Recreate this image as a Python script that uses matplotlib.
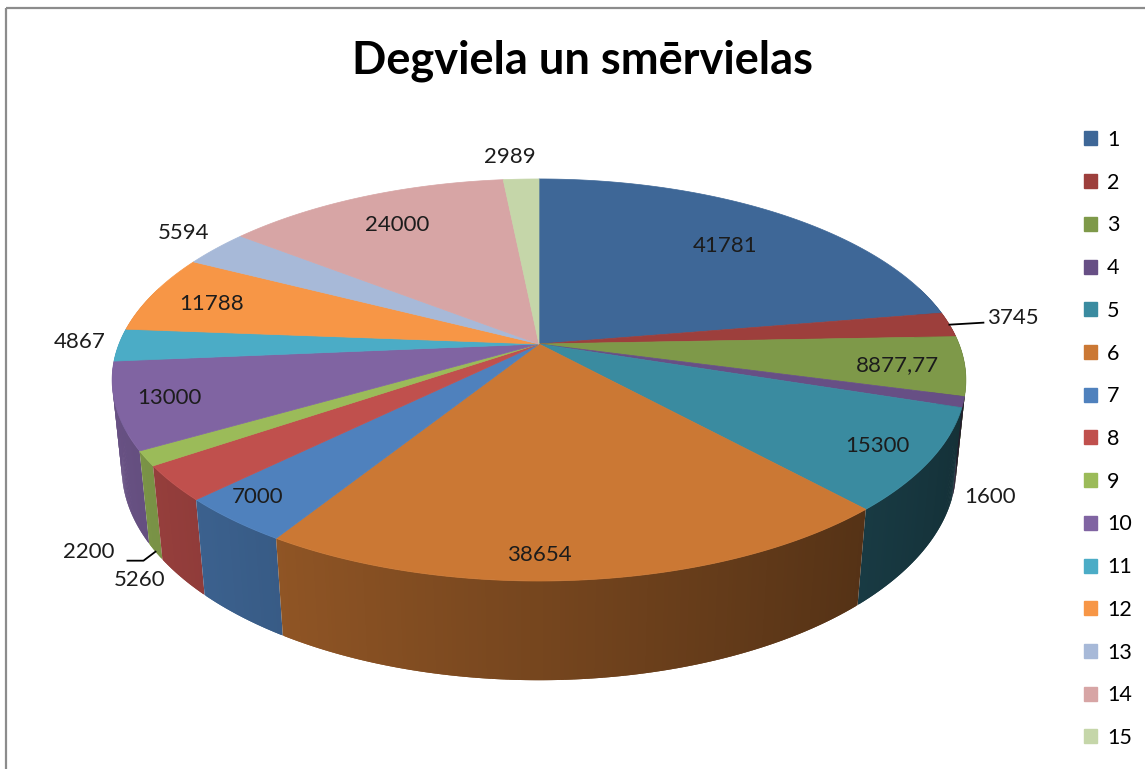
import numpy as np
import matplotlib
matplotlib.use('Agg')
import matplotlib.pyplot as plt
from matplotlib.patches import Polygon, Patch, Rectangle
from matplotlib.collections import PolyCollection
from matplotlib.colors import to_rgb

# ---------------- data ----------------
title = 'Degviela un smērvielas'
categories = [str(i) for i in range(1, 16)]
values = [41781, 3745, 8877.77, 1600, 15300, 38654, 7000, 5260, 2200,
          13000, 4867, 11788, 5594, 24000, 2989]
value_labels = ['41781', '3745', '8877,77', '1600', '15300', '38654', '7000',
                '5260', '2200', '13000', '4867', '11788', '5594', '24000', '2989']
colors = ['#3E6797', '#9D3F3C', '#7E9949', '#674F85', '#3A8BA0', '#CB7834',
          '#4F81BD', '#C0504D', '#9BBB59', '#8064A2', '#4BACC6', '#F79646',
          '#A7B9D8', '#D7A5A5', '#C5D6A9']

# label placement: (radius on top plane, angular nudge in degrees)
label_place = [(0.74, 1.0), (1.165, -1.0), (0.845, 0.8), (1.167, 19.7),
               (0.878, 0.3), (0.909, 5.2), (0.905, 1.6), (1.266, -12.6),
               (1.271, -12.7), (0.878, 0.0), (1.095, 0.8), (0.838, -1.0),
               (1.138, 1.5), (0.784, 0.0), (1.165, -1.2)]

# ---------------- view / style ----------------
W, H = 1145, 769
CX, CY = 539, 344          # projected pie centre (pixels)
FD = 2079.0                # focal * distance scale
DIST = 4.95                # camera distance (radius units)
ELEV = np.radians(27.6)
S, C = np.sin(ELEV), np.cos(ELEV)
DEPTH = 0.239              # pie thickness (radius units)
FONT = 'Lato'


def proj(r, phi_deg, z=0.0):
    p = np.radians(phi_deg)
    x, y = r * np.sin(p), r * np.cos(p)
    yv = y * S + z * C
    d = DIST + y * C - z * S
    return CX + FD * x / d, CY - FD * yv / d


def shade(col, phi_deg):
    k = 0.58 - 0.24 * np.sin(np.radians(phi_deg))
    return tuple(np.clip(np.array(to_rgb(col)) * k, 0, 1))


fig = plt.figure(figsize=(W / 100, H / 100), dpi=100)
ax = fig.add_axes([0, 0, 1, 1])
ax.set_xlim(0, W)
ax.set_ylim(H, 0)
ax.axis('off')

vals = np.array(values, dtype=float)
frac = vals / vals.sum()
ends = np.cumsum(frac) * 360.0
starts = ends - frac * 360.0
mids = (starts + ends) / 2

# ---- side walls (painter's order, far to near; strips overlap slightly) ----
strips = []
for i, (a0, a1) in enumerate(zip(starts, ends)):
    n = max(2, int(np.ceil((a1 - a0) / 0.5)))
    grid = np.linspace(a0, a1, n + 1)
    for b0, b1 in zip(grid[:-1], grid[1:]):
        bm = (b0 + b1) / 2
        if np.cos(np.radians(bm)) > 0.3:
            continue
        e0, e1 = b0 - 0.25, b1 + 0.25
        if b0 == a0:
            e0 = b0
        if b1 == a1:
            e1 = b1
        quad = [proj(1, e0, 0), proj(1, e1, 0), proj(1, e1, -DEPTH), proj(1, e0, -DEPTH)]
        strips.append((np.cos(np.radians(bm)), quad, shade(colors[i], bm)))
strips.sort(key=lambda t: -t[0])
pc = PolyCollection([s[1] for s in strips], facecolors=[s[2] for s in strips],
                    edgecolors='none', linewidths=0)
ax.add_collection(pc)

# ---- top faces ----
for i, (a0, a1) in enumerate(zip(starts, ends)):
    n = max(2, int(np.ceil((a1 - a0) / 0.5)))
    pts = [proj(0, 0)] + [proj(1, a) for a in np.linspace(a0, a1, n + 1)]
    ax.add_patch(Polygon(pts, closed=True, facecolor=colors[i],
                         edgecolor=colors[i], linewidth=0.5))

# ---- data labels ----
for i, (lab, (r, dphi)) in enumerate(zip(value_labels, label_place)):
    x, y = proj(r, mids[i] + dphi)
    ax.text(x, y, lab, ha='center', va='center', fontsize=16,
            family=FONT, color='#1c1c1c')

# leader lines (slice 2 and slice 9)
x0, y0 = proj(1.0, mids[1])
ax.plot([x0, x0 + 34], [y0, y0 - 2], color='black', lw=1.3)
x0, y0 = proj(1.0, mids[8], -DEPTH)
ax.plot([x0, x0 - 12, x0 - 28], [y0, y0 + 9, y0 + 9], color='black', lw=1.3)

# ---- title ----
ax.text(582, 61, title, ha='center', va='center', fontsize=32.5,
        fontweight='bold', family=FONT, color='black')

# ---- legend ----
handles = [Patch(facecolor=c, edgecolor=c) for c in colors]
ax.legend(handles, categories, loc='upper left',
          bbox_to_anchor=(1084 / W, 1 - 130 / H), frameon=False,
          prop={'family': FONT, 'size': 15.5}, handlelength=0.62,
          handleheight=0.62, handletextpad=0.45, labelspacing=1.055,
          borderaxespad=0, borderpad=0)

# ---- chart border ----
ax.add_patch(Rectangle((6, 8), 1300, 900, fill=False, edgecolor='#8c8c8c', lw=1.6))

fig.savefig('out.png', dpi=100)
